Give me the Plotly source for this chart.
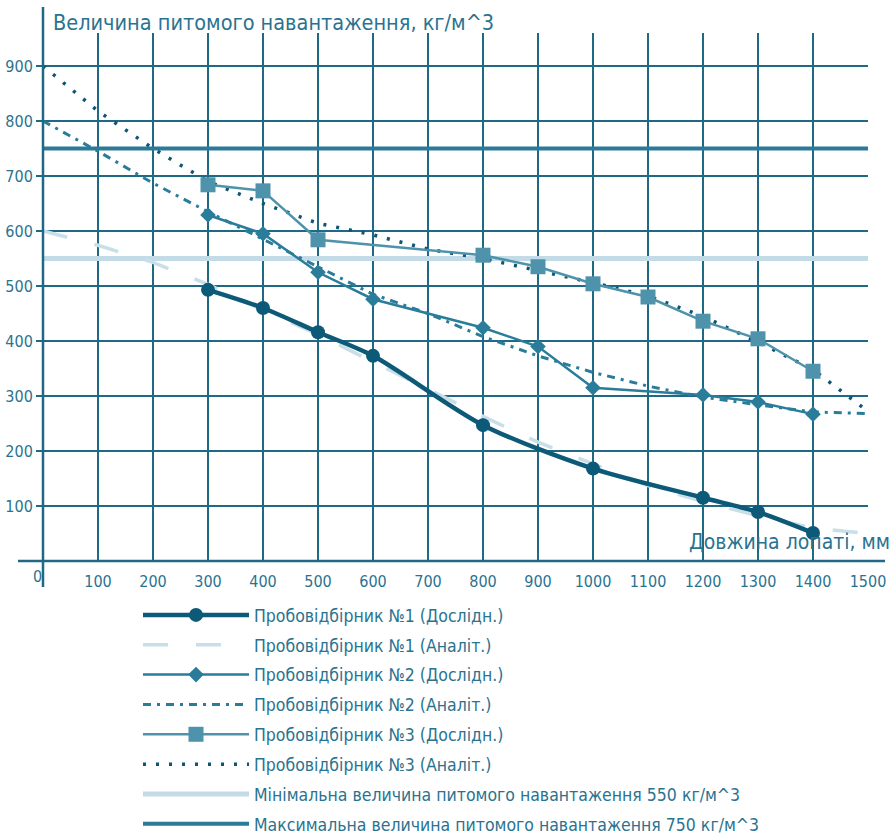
import plotly.graph_objects as go

# ---------------- data ----------------
x_exp1 = [300, 400, 500, 600, 800, 1000, 1200, 1300, 1400]
y_exp1 = [493, 460, 416, 373, 247, 168, 115, 89, 51]

x_exp2 = [300, 400, 500, 600, 800, 900, 1000, 1200, 1300, 1400]
y_exp2 = [629, 595, 525, 476, 424, 390, 315, 302, 289, 267]

x_exp3 = [300, 400, 500, 800, 900, 1000, 1100, 1200, 1300, 1400]
y_exp3 = [684, 673, 584, 556, 535, 504, 480, 436, 404, 345]

x_an = [0, 100, 200, 300, 400, 500, 600, 700, 800, 900, 1000, 1100, 1200, 1300, 1400, 1500]
y_an1 = [600, 574, 543, 503, 456, 412, 362, 312, 263, 216, 177, 137, 108, 82, 60, 50]
y_an2 = [800, 745, 687, 635, 585, 535, 485, 450, 408, 373, 343, 318, 298, 284, 271, 268]
y_an3 = [900, 818, 750, 690, 650, 614, 593, 567, 550, 528, 506, 482, 445, 398, 348, 272]

limit_min = 550
limit_max = 750

x_ticks = [100, 200, 300, 400, 500, 600, 700, 800, 900, 1000, 1100, 1200, 1300, 1400, 1500]
y_ticks = [100, 200, 300, 400, 500, 600, 700, 800, 900]

names = [
    "Пробовідбірник №1 (Дослідн.)",
    "Пробовідбірник №1 (Аналіт.)",
    "Пробовідбірник №2 (Дослідн.)",
    "Пробовідбірник №2 (Аналіт.)",
    "Пробовідбірник №3 (Дослідн.)",
    "Пробовідбірник №3 (Аналіт.)",
    "Мінімальна величина питомого навантаження 550 кг/м^3",
    "Максимальна величина питомого навантаження 750 кг/м^3",
]
title_text = "Величина питомого навантаження, кг/м^3"
xtitle_text = "Довжина лопаті, мм"

# ---------------- style ----------------
GRID = "#1f6985"
TXT = "#2a7390"
C1 = "#0c5a78"
C1A = "#c8dfe9"
C2 = "#2a7d9a"
C3 = "#4e93ab"
C3A = "#0e5573"
CMIN = "#c3dbe6"
CMAX = "#2b7a97"
FONT = "DejaVu Sans Condensed, DejaVu Sans"

X0, X1 = 0, 1500
Y0, Y1 = 0, 960

fig = go.Figure()

# threshold lines
fig.add_trace(go.Scatter(x=[X0, X1], y=[limit_min, limit_min], mode="lines",
                         line=dict(color=CMIN, width=5), name=names[6],
                         legendgroup="g7", legendrank=7))
fig.add_trace(go.Scatter(x=[X0, X1], y=[limit_max, limit_max], mode="lines",
                         line=dict(color=CMAX, width=4), name=names[7],
                         legendgroup="g8", legendrank=8))

# analytical curves
fig.add_trace(go.Scatter(x=x_an, y=y_an1, mode="lines",
                         line=dict(color=C1A, width=3.5, dash="25px,28px"),
                         name=names[1], legendgroup="g2", legendrank=2))
fig.add_trace(go.Scatter(x=x_an, y=y_an2, mode="lines",
                         line=dict(color=C2, width=3, dash="8px,6px,3px,6px"),
                         name=names[3], legendgroup="g4", legendrank=4))
fig.add_trace(go.Scatter(x=x_an, y=y_an3, mode="lines",
                         line=dict(color=C3A, width=3.5, dash="3px,10px"),
                         name=names[5], legendgroup="g6", legendrank=6))

# experimental curves
fig.add_trace(go.Scatter(x=x_exp3, y=y_exp3, mode="lines+markers",
                         line=dict(color=C3, width=2.5),
                         marker=dict(symbol="square", size=15, color=C3),
                         name=names[4], legendgroup="g5", legendrank=5))
fig.add_trace(go.Scatter(x=x_exp2, y=y_exp2, mode="lines+markers",
                         line=dict(color=C2, width=2.5),
                         marker=dict(symbol="diamond", size=12, color=C2),
                         name=names[2], legendgroup="g3", legendrank=3))
fig.add_trace(go.Scatter(x=x_exp1, y=y_exp1, mode="lines+markers",
                         line=dict(color=C1, width=4.5, shape="spline", smoothing=0.8),
                         marker=dict(symbol="circle", size=14, color=C1),
                         name=names[0], legendgroup="g1", legendrank=1))

L, T, W, H = 43, 33, 825, 528

fig.update_layout(
    width=895, height=836,
    margin=dict(l=L, r=895 - L - W, t=T, b=836 - T - H, pad=0, autoexpand=False),
    paper_bgcolor="white", plot_bgcolor="white",
    font=dict(family=FONT, color=TXT, size=16),
    showlegend=True,
    legend=dict(
        x=(138 - L) / W, y=(561 - 597) / H, xanchor="left", yanchor="top",
        font=dict(size=17.5, color=TXT, family=FONT),
        itemwidth=106, tracegroupgap=4.1, bgcolor="rgba(0,0,0,0)",
        traceorder="grouped",
    ),
    xaxis=dict(range=[X0, X1], tickvals=x_ticks, showgrid=True, gridcolor=GRID,
               gridwidth=2, zeroline=False, showline=False, ticks="outside",
               ticklen=6, tickcolor="rgba(0,0,0,0)", automargin=False,
               tickfont=dict(size=16, color=TXT, family=FONT), fixedrange=True),
    yaxis=dict(range=[Y0, Y1], tickvals=y_ticks, showgrid=True, gridcolor=GRID,
               gridwidth=2, zeroline=False, showline=False, ticks="outside",
               ticklen=6, tickwidth=2, tickcolor=GRID, automargin=False,
               tickfont=dict(size=16, color=TXT, family=FONT), fixedrange=True),
)

# extended axis lines
fig.add_shape(type="line", xref="paper", yref="paper",
              x0=0, x1=0, y0=-26 / H, y1=(561 - 7) / H,
              line=dict(color=GRID, width=2.5), layer="above")
fig.add_shape(type="line", xref="paper", yref="paper",
              x0=-25 / W, x1=(885 - L) / W, y0=0, y1=0,
              line=dict(color=GRID, width=2.5), layer="above")

fig.add_annotation(text=title_text, xref="paper", yref="paper",
                   x=(51 - L) / W, y=(561 - 22) / H, xanchor="left", yanchor="middle",
                   showarrow=False, font=dict(size=21.5, color=TXT, family=FONT))
fig.add_annotation(text=xtitle_text, xref="paper", yref="paper",
                   x=(892 - L) / W, y=(561 - 542) / H, xanchor="right", yanchor="middle",
                   showarrow=False, font=dict(size=21, color=TXT, family=FONT))
fig.add_annotation(text="0", xref="x", yref="y", x=0, y=0, xanchor="right",
                   yanchor="top", xshift=1, yshift=-4, showarrow=False,
                   font=dict(size=16, color=TXT, family=FONT))

fig.write_html("out.html", config={"displayModeBar": False},
               post_script="document.body.style.margin='0';")
